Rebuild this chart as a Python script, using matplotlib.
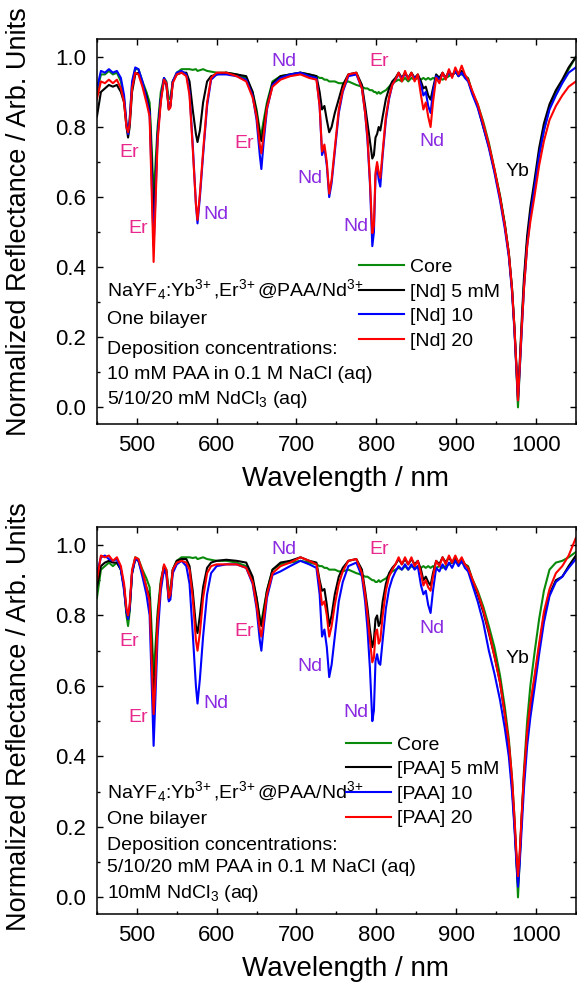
"""
Reflectance spectra of NaYF4:Yb,Er@PAA/Nd core-shell particles,
two panels: varying Nd deposition concentration (top) and PAA (bottom).
Writes out.png.
"""

import matplotlib
matplotlib.use("Agg")
import matplotlib.pyplot as plt
from matplotlib.ticker import MultipleLocator

############################################################
# Data
############################################################

wavelength = [
    450, 455, 460, 465, 470, 475, 480, 484, 487, 489,
    491, 494, 498, 502, 507, 512, 516, 519, 521, 523,
    526, 530, 534, 537, 540, 542, 545, 550, 556, 562,
    566, 570, 574, 576, 579, 583, 588, 593, 600, 612,
    625, 637, 645, 650, 654, 656, 659, 663, 670, 680,
    692, 705, 716, 725, 729, 732, 735, 738, 741, 744,
    748, 753, 758, 765, 775, 782, 786, 789, 792, 795,
    797, 799, 801, 803, 805, 808, 812, 816, 820, 824,
    828, 832, 836, 840, 844, 848, 852, 856, 859, 862,
    865, 868, 871, 875, 879, 883, 887, 891, 895, 899,
    903, 907, 911, 915, 920, 927, 934, 941, 948, 955,
    961, 966, 970, 973, 975.5, 977.5, 979.5, 982, 985, 989,
    993, 998, 1004, 1010, 1017, 1025, 1033, 1041, 1050,
]

# ── top panel: [Nd] series ────────────────────────────────
top_core = [
    0.90, 0.95, 0.95, 0.96, 0.95, 0.955, 0.93, 0.88, 0.81, 0.79,
    0.82, 0.92, 0.965, 0.965, 0.93, 0.90, 0.87, 0.72, 0.60, 0.68,
    0.80, 0.90, 0.94, 0.93, 0.88, 0.88, 0.93, 0.955, 0.965, 0.965,
    0.965, 0.963, 0.965, 0.96, 0.962, 0.965, 0.96, 0.958, 0.955, 0.955,
    0.95, 0.94, 0.90, 0.85, 0.79, 0.78, 0.82, 0.87, 0.93, 0.945,
    0.95, 0.955, 0.95, 0.945, 0.94, 0.94, 0.935, 0.935, 0.93, 0.93,
    0.93, 0.925, 0.925, 0.93, 0.92, 0.915, 0.91, 0.91, 0.905, 0.905,
    0.90, 0.90, 0.895, 0.90, 0.895, 0.90, 0.905, 0.915, 0.925, 0.93,
    0.935, 0.93, 0.94, 0.93, 0.94, 0.935, 0.94, 0.935, 0.94, 0.935,
    0.94, 0.935, 0.94, 0.935, 0.94, 0.935, 0.94, 0.945, 0.95, 0.955,
    0.95, 0.95, 0.945, 0.94, 0.90, 0.865, 0.815, 0.755, 0.68, 0.605,
    0.525, 0.44, 0.34, 0.23, 0.11, 0.0, 0.10, 0.22, 0.35, 0.475,
    0.55, 0.625, 0.72, 0.79, 0.855, 0.90, 0.93, 0.965, 1.0,
]
top_nd5 = [
    0.83, 0.90, 0.91, 0.92, 0.915, 0.92, 0.90, 0.87, 0.80, 0.77,
    0.80, 0.90, 0.95, 0.955, 0.925, 0.89, 0.85, 0.68, 0.52, 0.62,
    0.78, 0.88, 0.935, 0.92, 0.85, 0.86, 0.93, 0.95, 0.955, 0.955,
    0.93, 0.85, 0.78, 0.757, 0.79, 0.87, 0.93, 0.945, 0.95, 0.955,
    0.95, 0.945, 0.90, 0.84, 0.78, 0.76, 0.80, 0.86, 0.925, 0.945,
    0.95, 0.955, 0.95, 0.945, 0.90, 0.85, 0.86, 0.82, 0.785, 0.80,
    0.84, 0.88, 0.92, 0.95, 0.955, 0.92, 0.86, 0.81, 0.76, 0.71,
    0.72, 0.77, 0.78, 0.80, 0.79, 0.83, 0.88, 0.91, 0.93, 0.94,
    0.955, 0.94, 0.955, 0.94, 0.955, 0.94, 0.95, 0.93, 0.91, 0.915,
    0.89, 0.878, 0.91, 0.95, 0.94, 0.955, 0.94, 0.96, 0.945, 0.96,
    0.945, 0.96, 0.945, 0.935, 0.90, 0.86, 0.80, 0.745, 0.675, 0.60,
    0.52, 0.44, 0.34, 0.23, 0.12, 0.03, 0.12, 0.24, 0.37, 0.49,
    0.57, 0.645, 0.74, 0.81, 0.865, 0.905, 0.935, 0.97, 1.0,
]
top_nd10 = [
    0.91, 0.96, 0.955, 0.965, 0.955, 0.96, 0.94, 0.89, 0.81, 0.78,
    0.82, 0.93, 0.97, 0.965, 0.93, 0.88, 0.84, 0.62, 0.46, 0.58,
    0.77, 0.88, 0.94, 0.925, 0.855, 0.86, 0.93, 0.955, 0.96, 0.95,
    0.90, 0.75, 0.58, 0.525, 0.60, 0.72, 0.86, 0.935, 0.95, 0.95,
    0.945, 0.935, 0.89, 0.82, 0.72, 0.68, 0.76, 0.85, 0.92, 0.94,
    0.95, 0.955, 0.945, 0.94, 0.86, 0.72, 0.74, 0.69, 0.60, 0.64,
    0.73, 0.84, 0.90, 0.945, 0.95, 0.91, 0.84, 0.76, 0.64, 0.46,
    0.50, 0.66, 0.69, 0.65, 0.63, 0.72, 0.82, 0.88, 0.92, 0.935,
    0.95, 0.94, 0.95, 0.94, 0.95, 0.94, 0.945, 0.92, 0.89, 0.90,
    0.86, 0.84, 0.90, 0.945, 0.935, 0.95, 0.94, 0.955, 0.945, 0.96,
    0.945, 0.955, 0.94, 0.93, 0.895, 0.855, 0.80, 0.74, 0.67, 0.59,
    0.51, 0.43, 0.33, 0.22, 0.11, 0.02, 0.10, 0.21, 0.34, 0.46,
    0.545, 0.625, 0.72, 0.79, 0.85, 0.89, 0.925, 0.955, 0.97,
]
top_nd20 = [
    0.88, 0.93, 0.925, 0.935, 0.925, 0.935, 0.91, 0.87, 0.80, 0.785,
    0.81, 0.91, 0.955, 0.95, 0.915, 0.87, 0.83, 0.58, 0.415, 0.55,
    0.76, 0.87, 0.935, 0.925, 0.85, 0.855, 0.925, 0.95, 0.955, 0.945,
    0.89, 0.74, 0.58, 0.535, 0.61, 0.73, 0.87, 0.94, 0.955, 0.955,
    0.945, 0.93, 0.885, 0.83, 0.75, 0.725, 0.78, 0.855, 0.915, 0.935,
    0.945, 0.95, 0.94, 0.935, 0.86, 0.73, 0.75, 0.70, 0.61, 0.65,
    0.74, 0.85, 0.905, 0.95, 0.955, 0.91, 0.84, 0.77, 0.65, 0.497,
    0.52, 0.67, 0.70, 0.67, 0.655, 0.73, 0.83, 0.885, 0.92, 0.935,
    0.955, 0.93, 0.96, 0.935, 0.955, 0.93, 0.95, 0.89, 0.85, 0.87,
    0.83, 0.80, 0.87, 0.94, 0.925, 0.955, 0.935, 0.965, 0.94, 0.97,
    0.95, 0.975, 0.95, 0.935, 0.905, 0.865, 0.81, 0.75, 0.68, 0.60,
    0.52, 0.44, 0.34, 0.23, 0.12, 0.02, 0.11, 0.22, 0.34, 0.46,
    0.53, 0.60, 0.69, 0.76, 0.82, 0.86, 0.89, 0.915, 0.93,
]

# ── bottom panel: [PAA] series ────────────────────────────
bot_core = [
    0.85, 0.93, 0.94, 0.95, 0.94, 0.95, 0.93, 0.88, 0.80, 0.77,
    0.81, 0.92, 0.965, 0.96, 0.93, 0.905, 0.88, 0.74, 0.63, 0.70,
    0.81, 0.90, 0.94, 0.93, 0.87, 0.875, 0.93, 0.955, 0.965, 0.965,
    0.965, 0.963, 0.965, 0.96, 0.962, 0.965, 0.96, 0.958, 0.955, 0.955,
    0.95, 0.94, 0.90, 0.85, 0.79, 0.78, 0.82, 0.87, 0.93, 0.945,
    0.95, 0.955, 0.95, 0.945, 0.94, 0.94, 0.935, 0.935, 0.93, 0.93,
    0.93, 0.925, 0.925, 0.93, 0.92, 0.915, 0.91, 0.91, 0.905, 0.90,
    0.90, 0.895, 0.895, 0.90, 0.895, 0.90, 0.905, 0.915, 0.925, 0.93,
    0.935, 0.93, 0.94, 0.93, 0.94, 0.935, 0.94, 0.935, 0.94, 0.935,
    0.94, 0.935, 0.94, 0.935, 0.94, 0.935, 0.94, 0.945, 0.95, 0.955,
    0.95, 0.95, 0.945, 0.94, 0.905, 0.87, 0.825, 0.77, 0.71, 0.63,
    0.54, 0.45, 0.34, 0.23, 0.11, 0.0, 0.10, 0.22, 0.36, 0.50,
    0.60, 0.69, 0.79, 0.87, 0.93, 0.95, 0.955, 0.965, 0.98,
]
bot_paa5 = [
    0.88, 0.94, 0.95, 0.955, 0.95, 0.95, 0.93, 0.88, 0.81, 0.79,
    0.82, 0.92, 0.96, 0.955, 0.92, 0.88, 0.85, 0.68, 0.55, 0.64,
    0.79, 0.89, 0.94, 0.925, 0.845, 0.855, 0.93, 0.955, 0.96, 0.96,
    0.94, 0.87, 0.77, 0.75, 0.80, 0.88, 0.935, 0.95, 0.955, 0.958,
    0.955, 0.95, 0.91, 0.85, 0.79, 0.77, 0.81, 0.87, 0.93, 0.95,
    0.955, 0.965, 0.955, 0.95, 0.90, 0.87, 0.875, 0.83, 0.77, 0.80,
    0.86, 0.91, 0.935, 0.955, 0.96, 0.93, 0.87, 0.82, 0.76, 0.71,
    0.73, 0.79, 0.80, 0.77, 0.78, 0.84, 0.89, 0.92, 0.935, 0.945,
    0.96, 0.945, 0.96, 0.945, 0.96, 0.945, 0.955, 0.93, 0.90, 0.91,
    0.895, 0.885, 0.92, 0.955, 0.945, 0.965, 0.95, 0.965, 0.95, 0.965,
    0.95, 0.96, 0.945, 0.935, 0.90, 0.86, 0.81, 0.75, 0.685, 0.61,
    0.52, 0.43, 0.32, 0.21, 0.11, 0.04, 0.11, 0.22, 0.34, 0.46,
    0.54, 0.615, 0.71, 0.80, 0.86, 0.90, 0.91, 0.94, 0.97,
]
bot_paa10 = [
    0.92, 0.965, 0.97, 0.96, 0.955, 0.96, 0.93, 0.87, 0.81, 0.79,
    0.82, 0.92, 0.96, 0.955, 0.91, 0.86, 0.80, 0.58, 0.43, 0.55,
    0.74, 0.87, 0.93, 0.915, 0.84, 0.845, 0.92, 0.945, 0.955, 0.94,
    0.89, 0.75, 0.60, 0.55, 0.62, 0.74, 0.86, 0.92, 0.94, 0.945,
    0.945, 0.935, 0.89, 0.82, 0.73, 0.70, 0.77, 0.85, 0.915, 0.925,
    0.94, 0.955, 0.945, 0.935, 0.86, 0.74, 0.76, 0.71, 0.625, 0.66,
    0.74, 0.84, 0.895, 0.94, 0.95, 0.91, 0.84, 0.76, 0.65, 0.50,
    0.53, 0.67, 0.69, 0.665, 0.66, 0.73, 0.82, 0.875, 0.905, 0.925,
    0.94, 0.93, 0.945, 0.93, 0.945, 0.93, 0.94, 0.885, 0.86, 0.87,
    0.83, 0.807, 0.87, 0.935, 0.925, 0.945, 0.93, 0.95, 0.935, 0.955,
    0.94, 0.955, 0.935, 0.925, 0.89, 0.84, 0.78, 0.70, 0.635, 0.56,
    0.48, 0.40, 0.30, 0.20, 0.10, 0.03, 0.09, 0.19, 0.31, 0.43,
    0.51, 0.59, 0.69, 0.78, 0.855, 0.895, 0.91, 0.935, 0.96,
]
bot_paa20 = [
    0.90, 0.97, 0.965, 0.97, 0.955, 0.965, 0.94, 0.89, 0.82, 0.80,
    0.83, 0.93, 0.965, 0.96, 0.925, 0.88, 0.84, 0.64, 0.52, 0.60,
    0.78, 0.89, 0.945, 0.93, 0.85, 0.86, 0.93, 0.95, 0.955, 0.95,
    0.93, 0.85, 0.73, 0.70, 0.75, 0.85, 0.92, 0.94, 0.945, 0.945,
    0.945, 0.935, 0.895, 0.83, 0.76, 0.74, 0.79, 0.86, 0.92, 0.94,
    0.95, 0.965, 0.955, 0.945, 0.89, 0.83, 0.84, 0.80, 0.74, 0.77,
    0.83, 0.89, 0.925, 0.955, 0.96, 0.92, 0.86, 0.80, 0.73, 0.667,
    0.68, 0.75, 0.76, 0.72, 0.73, 0.80, 0.87, 0.91, 0.93, 0.945,
    0.965, 0.945, 0.965, 0.945, 0.965, 0.94, 0.955, 0.92, 0.885, 0.90,
    0.88, 0.87, 0.91, 0.955, 0.94, 0.965, 0.945, 0.97, 0.95, 0.97,
    0.95, 0.965, 0.945, 0.935, 0.905, 0.865, 0.815, 0.755, 0.685, 0.61,
    0.52, 0.44, 0.34, 0.23, 0.13, 0.06, 0.12, 0.23, 0.35, 0.47,
    0.55, 0.625, 0.72, 0.81, 0.875, 0.92, 0.94, 0.97, 1.02,
]

top_labels = ["Core", "[Nd] 5 mM", "[Nd] 10", "[Nd] 20"]
bot_labels = ["Core", "[PAA] 5 mM", "[PAA] 10", "[PAA] 20"]

# \! pulls the "+" tight against the "3"
top_info = [
    r"NaYF$_4$:Yb$^{3\!+}$,Er$^{3\!+}$@PAA/Nd$^{3\!+}$",
    "One bilayer",
    "Deposition concentrations:",
    "10 mM PAA in 0.1 M NaCl (aq)",
    r"5/10/20 mM NdCl$_3$ (aq)",
]
bot_info = [
    r"NaYF$_4$:Yb$^{3\!+}$,Er$^{3\!+}$@PAA/Nd$^{3\!+}$",
    "One bilayer",
    "Deposition concentrations:",
    "5/10/20 mM PAA in 0.1 M NaCl (aq)",
    r"10mM NdCl$_3$ (aq)",
]

# peak assignments
ann_text = ["Er", "Er", "Nd", "Er", "Nd", "Nd", "Nd", "Er", "Nd", "Yb"]
ann_x = [490, 502, 599, 635, 684, 717, 774, 804, 870, 977]
ann_y_top = [0.726, 0.509, 0.551, 0.754, 0.986, 0.654, 0.517, 0.986, 0.760, 0.674]
ann_y_bot = [0.727, 0.510, 0.551, 0.754, 0.986, 0.656, 0.524, 0.986, 0.763, 0.679]

############################################################
# Style
############################################################

plt.rcParams.update({
    "font.family": ["Liberation Sans", "DejaVu Sans"],
    "mathtext.fontset": "custom",
    "mathtext.rm": "Liberation Sans",
    "mathtext.it": "Liberation Sans:italic",
    "mathtext.default": "regular",
    "axes.linewidth": 1.1,
})

LINE_COLORS = ["#0a8a0a", "#000000", "#0000ff", "#ff0000"]
ANN_COLORS = {"Er": "#e8288c", "Nd": "#8a2be2", "Yb": "#000000"}

fig = plt.figure(figsize=(5.77, 9.88), dpi=100)
ax_top = fig.add_axes([0.168, 0.571, 0.830, 0.3895])
ax_bot = fig.add_axes([0.168, 0.075, 0.830, 0.3916])


def draw_panel(ax, series, labels, info, ann_y, info_y, leg_anchor, ylab_y):
    for ys, lab, col in zip(series, labels, LINE_COLORS):
        ax.plot(wavelength, ys, color=col, lw=1.5, label=lab)

    ax.set_xlim(450, 1050)
    ax.set_ylim(-0.047, 1.051)
    ax.xaxis.set_major_locator(MultipleLocator(100))
    ax.xaxis.set_minor_locator(MultipleLocator(50))
    ax.yaxis.set_major_locator(MultipleLocator(0.2))
    ax.yaxis.set_minor_locator(MultipleLocator(0.1))
    ax.yaxis.set_major_formatter(plt.FuncFormatter(lambda v, p: f"{v:.1f}"))
    ax.tick_params(which="both", direction="in", top=True, right=True,
                   width=1.0, labelsize=16, pad=8)
    ax.tick_params(which="major", length=4.5)
    ax.tick_params(which="minor", length=2.5)

    ax.set_xlabel("Wavelength / nm", fontsize=20)
    ax.set_ylabel("Normalized Reflectance / Arb. Units", fontsize=19.5)
    ax.xaxis.set_label_coords(0.52, -0.11)
    ax.yaxis.set_label_coords(-0.135, ylab_y)

    for t, x, y in zip(ann_text, ann_x, ann_y):
        ax.text(x, y, t, color=ANN_COLORS[t], fontsize=14,
                ha="center", va="center")

    for line, y in zip(info, info_y):
        ax.text(0.02, y, line, transform=ax.transAxes, fontsize=14,
                ha="left", va="center")

    ax.legend(loc="upper left", bbox_to_anchor=leg_anchor, frameon=False,
              fontsize=14, handlelength=2.3, handletextpad=0.3,
              labelspacing=0.36, borderpad=0, borderaxespad=0)


draw_panel(ax_top, [top_core, top_nd5, top_nd10, top_nd20], top_labels,
           top_info, ann_y_top, [0.348, 0.270, 0.192, 0.127, 0.062],
           (0.548, 0.43), 0.525)
draw_panel(ax_bot, [bot_core, bot_paa5, bot_paa10, bot_paa20], bot_labels,
           bot_info, ann_y_bot, [0.315, 0.245, 0.178, 0.119, 0.054],
           (0.521, 0.46), 0.51)

fig.savefig("out.png", dpi=100)
